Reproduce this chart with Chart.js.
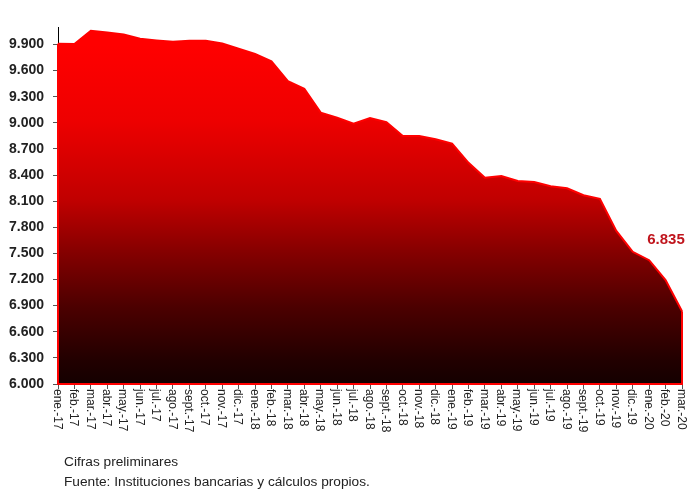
<!DOCTYPE html>
<html>
<head>
<meta charset="utf-8">
<script src="https://cdn.jsdelivr.net/npm/chart.js@4.4.1/dist/chart.umd.min.js"></script>
<style>
  html, body { margin: 0; padding: 0; background: #fff; }
  #wrap { position: relative; width: 688px; height: 493px; }
  #c { position: absolute; left: 0; top: 0; }
  .note { position: absolute; left: 64px; font: 13.7px "Liberation Sans", Arial, sans-serif; color: #222; white-space: nowrap; }
</style>
</head>
<body>
<div id="wrap">
  <canvas id="c" width="688" height="493"></canvas>
  <div class="note" style="top:454px">Cifras preliminares</div>
  <div class="note" style="top:474px">Fuente: Instituciones bancarias y cálculos propios.</div>
</div>
<script>
const categories = [
  "ene.-17","feb.-17","mar.-17","abr.-17","may.-17","jun.-17","jul.-17","ago.-17","sept.-17","oct.-17","nov.-17","dic.-17",
  "ene.-18","feb.-18","mar.-18","abr.-18","may.-18","jun.-18","jul.-18","ago.-18","sept.-18","oct.-18","nov.-18","dic.-18",
  "ene.-19","feb.-19","mar.-19","abr.-19","may.-19","jun.-19","jul.-19","ago.-19","sept.-19","oct.-19","nov.-19","dic.-19",
  "ene.-20","feb.-20","mar.-20"
];
const values = [
  9908, 9905, 10057, 10038, 10015, 9965, 9946, 9930, 9942, 9942, 9910, 9851,
  9790, 9707, 9478, 9391, 9116, 9059, 8990, 9054, 9008, 8848, 8848, 8810,
  8761, 8540, 8370, 8389, 8332, 8320, 8271, 8248, 8168, 8126, 7759, 7518,
  7422, 7193, 6835
];
const yMin = 6000;
const yMax = 10100;
const yStep = 300;

function fmt(v) {
  const t = Math.floor(v / 1000), r = Math.round(v % 1000);
  return t + '.' + String(r).padStart(3, '0');
}

function gradientFill(ctx) {
  const ch = ctx.chart;
  const a = ch.chartArea;
  if (!a) return '#cc0000';
  const g = ch.ctx.createLinearGradient(0, a.top, 0, a.bottom);
  g.addColorStop(0.00, '#ff0000');
  g.addColorStop(0.05, '#ff0000');
  g.addColorStop(0.26, '#ee0000');
  g.addColorStop(0.485, '#c00000');
  g.addColorStop(0.633, '#840000');
  g.addColorStop(0.784, '#4c0000');
  g.addColorStop(0.933, '#220000');
  g.addColorStop(1.00, '#140000');
  return g;
}

const edgePlugin = {
  id: 'edges',
  afterDatasetsDraw(chart) {
    const meta = chart.getDatasetMeta(0);
    const pts = meta.data;
    const y0 = chart.scales.y.getPixelForValue(yMin);
    const c = chart.ctx;
    c.save();
    c.strokeStyle = '#ff0000';
    c.lineWidth = 2;
    c.beginPath();
    c.moveTo(pts[pts.length - 1].x, pts[pts.length - 1].y);
    c.lineTo(pts[pts.length - 1].x, y0);
    c.lineTo(pts[0].x, y0);
    c.lineTo(pts[0].x, pts[0].y);
    c.stroke();
    c.restore();
  },
  afterDraw(chart) {
    const c = chart.ctx;
    const xs = chart.scales.x;
    const ys = chart.scales.y;
    c.save();
    c.fillStyle = '#222';
    c.font = '12px "Liberation Sans", Arial, sans-serif';
    c.textAlign = 'left';
    c.textBaseline = 'middle';
    categories.forEach((lab, i) => {
      const x = xs.getPixelForTick(i);
      c.save();
      c.translate(x - 1, ys.bottom + 5);
      c.rotate(Math.PI / 2);
      c.fillText(lab, 0, 0);
      c.restore();
    });
    const pts = chart.getDatasetMeta(0).data;
    const last = pts[pts.length - 1];
    c.fillStyle = '#c0141c';
    c.font = 'bold 15px "Liberation Sans", Arial, sans-serif';
    c.textAlign = 'center';
    c.textBaseline = 'middle';
    c.fillText(fmt(values[values.length - 1]), last.x - 16, last.y - 71);
    c.restore();
  }
};

new Chart(document.getElementById('c'), {
  type: 'line',
  data: {
    labels: categories,
    datasets: [{
      data: values,
      borderColor: '#ff0000',
      borderWidth: 2,
      backgroundColor: gradientFill,
      fill: 'start',
      pointRadius: 0,
      tension: 0
    }]
  },
  options: {
    responsive: false,
    animation: false,
    layout: { padding: { top: 27, right: 6, left: 0, bottom: 0 } },
    plugins: { legend: { display: false }, tooltip: { enabled: false } },
    scales: {
      x: {
        offset: false,
        grid: { display: true, drawOnChartArea: false, drawTicks: true, tickLength: 5, color: '#555' },
        border: { display: false },
        ticks: { display: false, autoSkip: false },
        afterFit(s) { s.height = 109; }
      },
      y: {
        min: yMin,
        max: yMax,
        grid: { display: true, drawOnChartArea: false, drawTicks: true, tickLength: 5, color: '#555' },
        border: { display: true, color: '#000', width: 1 },
        ticks: {
          stepSize: yStep,
          padding: 9,
          color: '#222',
          font: { family: '"Liberation Sans", Arial, sans-serif', size: 14, weight: 'bold' },
          callback: v => fmt(v)
        },
        afterBuildTicks(s) { s.ticks = s.ticks.filter(t => t.value % yStep === 0); },
        afterFit(s) { s.width = 58; }
      }
    }
  },
  plugins: [edgePlugin]
});
</script>
</body>
</html>
